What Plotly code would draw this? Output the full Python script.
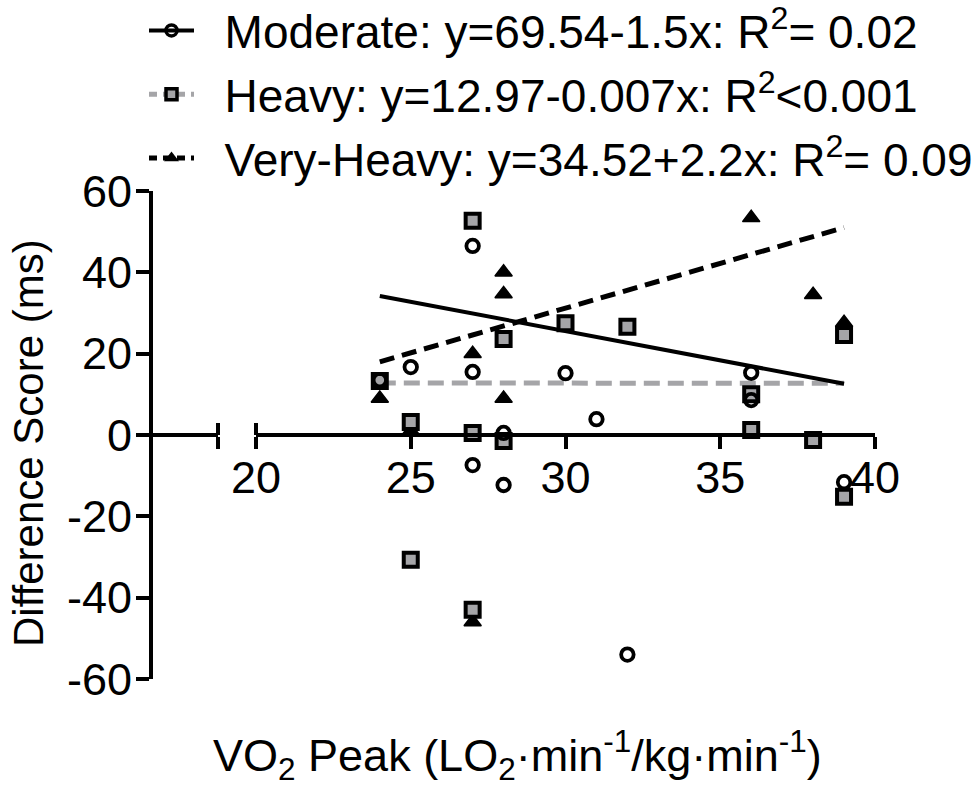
import plotly.graph_objects as go

# ---- data ----
x_ticks = [20, 25, 30, 35, 40]
x_tick_labels = ["20", "25", "30", "35", "40"]
y_ticks = [-60, -40, -20, 0, 20, 40, 60]
y_tick_labels = ["-60", "-40", "-20", "0", "20", "40", "60"]

mod_x = [27, 25, 27, 30, 31, 28, 27, 28, 36, 36, 39, 32, 24]
mod_y = [46.5, 16.7, 15.5, 15.2, 3.9, 0.5, -7.4, -12.3, 15.3, 8.6, -11.6, -54.0, 13.5]

heavy_x = [27, 30, 28, 24, 25, 27, 28, 32, 39, 36, 36, 38, 39, 25, 27]
heavy_y = [52.7, 27.5, 23.6, 13.3, 3.2, 0.5, -1.5, 26.6, 24.6, 10.0, 1.2, -1.2, -15.2, -30.7, -43.0]

vh_x = [28, 28, 27, 24, 28, 36, 38, 39, 27, 25]
vh_y = [40.0, 34.7, 20.0, 9.0, 9.0, 53.4, 34.5, 27.6, -46.0, 1.0]

fit_x = [24, 39]
mod_fit_y = [34.2, 12.6]
heavy_fit_y = [12.8, 12.7]
vh_fit_y = [18.0, 51.0]

legend_names = [
    "\u00a0\u00a0Moderate: y=69.54-1.5x: R<sup>2</sup>= 0.02",
    "\u00a0\u00a0Heavy: y=12.97-0.007x: R<sup>2</sup><0.001",
    "\u00a0\u00a0Very-Heavy: y=34.52+2.2x: R<sup>2</sup>= 0.09",
]

FONT = "Liberation Sans, Arial, sans-serif"
GREY = "#a5a5a8"
BLACK = "#000000"

fig = go.Figure()

# invisible anchors so every broken-axis piece is built
for ax in ["x", "x3", "x4"]:
    fig.add_trace(go.Scatter(x=[None], y=[None], xaxis=ax, yaxis="y", mode="markers",
                             showlegend=False, hoverinfo="skip"))

# regression lines
fig.add_trace(go.Scatter(x=fit_x, y=heavy_fit_y, mode="lines", xaxis="x2", yaxis="y",
                         line=dict(color=GREY, width=5, dash="16px,8px"), showlegend=False))
fig.add_trace(go.Scatter(x=fit_x, y=mod_fit_y, mode="lines", xaxis="x2", yaxis="y",
                         line=dict(color=BLACK, width=4), showlegend=False))
fig.add_trace(go.Scatter(x=fit_x, y=vh_fit_y, mode="lines", xaxis="x2", yaxis="y",
                         line=dict(color=BLACK, width=5, dash="15px,8px"), showlegend=False))

# points
fig.add_trace(go.Scatter(x=vh_x, y=vh_y, mode="markers", xaxis="x2", yaxis="y",
                         marker=dict(symbol="triangle-up", size=15, color=BLACK,
                                     line=dict(color=BLACK, width=1.5)), showlegend=False))
fig.add_trace(go.Scatter(x=heavy_x, y=heavy_y, mode="markers", xaxis="x2", yaxis="y",
                         marker=dict(symbol="square", size=14, color=GREY,
                                     line=dict(color=BLACK, width=4)), showlegend=False))
fig.add_trace(go.Scatter(x=mod_x, y=mod_y, mode="markers", xaxis="x2", yaxis="y",
                         marker=dict(symbol="circle-open", size=12.5, color=BLACK,
                                     line=dict(color=BLACK, width=3.8)), showlegend=False))

# legend entries
fig.add_trace(go.Scatter(x=[None], y=[None], mode="lines+markers", xaxis="x2", yaxis="y",
                         name=legend_names[0], legendgroup="a",
                         line=dict(color=BLACK, width=4),
                         marker=dict(symbol="circle-open", size=11, color=BLACK,
                                     line=dict(color=BLACK, width=3.5))))
fig.add_trace(go.Scatter(x=[None], y=[None], mode="lines+markers", xaxis="x2", yaxis="y",
                         name=legend_names[1], legendgroup="b",
                         line=dict(color=GREY, width=5, dash="8px,6px"),
                         marker=dict(symbol="square", size=11, color=GREY,
                                     line=dict(color=BLACK, width=3.5))))
fig.add_trace(go.Scatter(x=[None], y=[None], mode="lines+markers", xaxis="x2", yaxis="y",
                         name=legend_names[2], legendgroup="c",
                         line=dict(color=BLACK, width=5, dash="8px,6px"),
                         marker=dict(symbol="triangle-up", size=13, color=BLACK)))

L, R, T, B = 153, 99, 191, 107
W = 974 - L - R
H = 786 - T - B
seg1_end = (218 - L) / W
seg2_start = (256 - L) / W

def xax(domain, rng, tickvals, side, showline, labels=False, ticktext=None):
    d = dict(domain=domain, range=rng, anchor="free", position=0.5, side=side,
             tickmode="array", tickvals=tickvals, ticks="outside", ticklen=12, tickwidth=4,
             tickcolor=BLACK, showticklabels=labels, showgrid=False, zeroline=False,
             showline=showline, linecolor=BLACK, linewidth=4, fixedrange=True,
             tickfont=dict(family=FONT, size=45, color=BLACK))
    if ticktext is not None:
        d["ticktext"] = ticktext
        d["ticklabelstandoff"] = -10
    return d

fig.update_layout(
    width=974, height=786,
    margin=dict(l=L, r=R, t=T, b=B, autoexpand=False),
    paper_bgcolor="white", plot_bgcolor="rgba(0,0,0,0)",
    font=dict(family=FONT, color=BLACK),
    xaxis=xax([0, seg1_end], [0, 1], [1], "bottom", True),
    xaxis3=xax([0, seg1_end], [0, 1], [1], "top", False),
    xaxis2=xax([seg2_start, 1], [20, 40], x_ticks, "bottom", True, True, x_tick_labels),
    xaxis4=xax([seg2_start, 1], [20, 40], x_ticks[:1], "top", False),
    yaxis=dict(domain=[0, 1], range=[-60, 60], anchor="x", side="left", tickmode="array",
               tickvals=y_ticks, ticktext=y_tick_labels, ticks="outside", ticklen=13,
               ticklabelstandoff=-5,
               showgrid=False, zeroline=False, showline=True, linecolor=BLACK, linewidth=4,
               tickcolor=BLACK, tickwidth=4, fixedrange=True,
               tickfont=dict(family=FONT, size=45, color=BLACK)),
    legend=dict(xref="paper", yref="paper", x=(144 - L) / W, y=(786 - B + 6) / H,
                xanchor="left", yanchor="top", font=dict(family=FONT, size=46, color=BLACK),
                bgcolor="rgba(0,0,0,0)", traceorder="grouped", tracegroupgap=1, itemwidth=45),
    showlegend=True,
    annotations=[
        dict(text="VO<sub>2</sub> Peak (LO<sub>2</sub>·min<sup>-1</sup>/kg·min<sup>-1</sup>)",
             xref="paper", yref="paper", x=(517 - L) / W, y=-(755 - (786 - B)) / H,
             xanchor="center", yanchor="middle", showarrow=False,
             font=dict(family=FONT, size=45, color=BLACK)),
        dict(text="Difference Score (ms)", textangle=-90,
             xref="paper", yref="paper", x=-(L - 28) / W, y=(786 - B - 443) / H,
             xanchor="center", yanchor="middle", showarrow=False,
             font=dict(family=FONT, size=42, color=BLACK)),
    ],
)

fig.write_html("out.html", config={"displayModeBar": False},
               post_script="document.body.style.margin='0';")
